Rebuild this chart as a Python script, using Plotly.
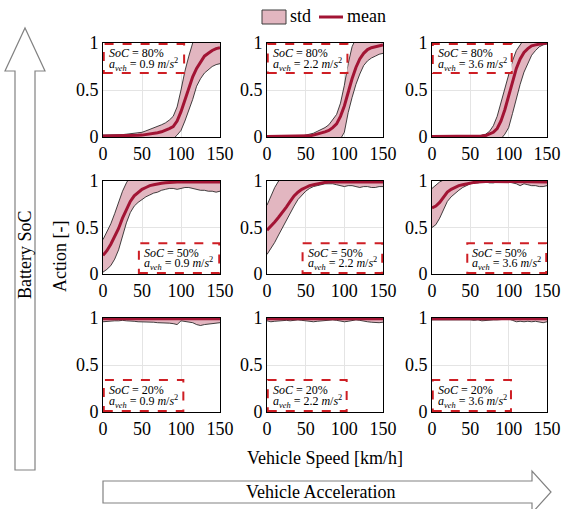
import plotly.graph_objects as go

W, H = 563, 509

speed = [0, 5, 10, 15, 20, 25, 30, 35, 40, 45, 50, 55, 60, 65, 70, 75,
         80, 85, 90, 95, 100, 105, 110, 115, 120, 125, 130, 135, 140, 145, 150]

soc_labels = ["80%", "50%", "20%"]
acc_labels = ["0.9", "2.2", "3.6"]

# ---- SoC = 80% ----
mean_80_09 = [0.01, 0.01, 0.01, 0.01, 0.01, 0.01, 0.01, 0.012, 0.015, 0.018, 0.02, 0.025, 0.03, 0.037, 0.045, 0.055,
              0.07, 0.09, 0.11, 0.17, 0.27, 0.40, 0.53, 0.64, 0.73, 0.80, 0.86, 0.89, 0.92, 0.94, 0.95]
up_80_09 = [0.02, 0.02, 0.02, 0.02, 0.02, 0.025, 0.03, 0.035, 0.04, 0.045, 0.05, 0.065, 0.08, 0.095, 0.11, 0.13,
            0.15, 0.18, 0.22, 0.32, 0.50, 0.70, 0.86, 1.0, 1.08, 1.10, 1.10, 1.10, 1.10, 1.10, 1.10]
lo_80_09 = [-0.02, -0.02, -0.02, -0.02, -0.02, -0.02, -0.02, -0.02, -0.02, -0.02, -0.02, -0.02, -0.02, -0.02, -0.02, -0.02,
            -0.02, -0.02, -0.02, 0.02, 0.07, 0.17, 0.28, 0.40, 0.54, 0.62, 0.68, 0.72, 0.75, 0.77, 0.78]

mean_80_22 = [0.005, 0.005, 0.005, 0.005, 0.005, 0.005, 0.005, 0.005, 0.005, 0.005, 0.008, 0.012, 0.02, 0.03, 0.04, 0.055,
              0.07, 0.10, 0.14, 0.22, 0.33, 0.48, 0.62, 0.74, 0.83, 0.89, 0.93, 0.95, 0.96, 0.97, 0.98]
up_80_22 = [0.01, 0.01, 0.01, 0.01, 0.01, 0.01, 0.01, 0.01, 0.01, 0.01, 0.02, 0.03, 0.04, 0.06, 0.08, 0.10,
            0.13, 0.18, 0.24, 0.36, 0.55, 0.78, 0.96, 1.05, 1.10, 1.10, 1.10, 1.10, 1.10, 1.10, 1.10]
lo_80_22 = [-0.02, -0.02, -0.02, -0.02, -0.02, -0.02, -0.02, -0.02, -0.02, -0.02, -0.02, -0.02, -0.02, -0.02, -0.02, -0.02,
            -0.02, -0.02, -0.02, -0.02, 0.05, 0.26, 0.42, 0.56, 0.67, 0.76, 0.81, 0.84, 0.86, 0.88, 0.89]

mean_80_36 = [0.005, 0.005, 0.005, 0.005, 0.005, 0.005, 0.005, 0.005, 0.005, 0.005, 0.005, 0.005, 0.005, 0.01, 0.015, 0.03,
              0.05, 0.09, 0.17, 0.29, 0.44, 0.60, 0.73, 0.83, 0.90, 0.94, 0.97, 0.98, 0.99, 0.995, 1.0]
up_80_36 = [0.01, 0.01, 0.01, 0.01, 0.01, 0.01, 0.01, 0.01, 0.01, 0.01, 0.01, 0.01, 0.01, 0.02, 0.03, 0.06,
            0.12, 0.22, 0.37, 0.53, 0.68, 0.81, 0.92, 0.99, 1.04, 1.05, 1.05, 1.05, 1.05, 1.05, 1.05]
lo_80_36 = [-0.02, -0.02, -0.02, -0.02, -0.02, -0.02, -0.02, -0.02, -0.02, -0.02, -0.02, -0.02, -0.02, -0.02, -0.02, -0.02,
            -0.02, -0.02, -0.02, 0.03, 0.10, 0.25, 0.41, 0.56, 0.69, 0.79, 0.87, 0.92, 0.96, 0.98, 0.99]

# ---- SoC = 50% ----
mean_50_09 = [0.20, 0.25, 0.32, 0.40, 0.49, 0.60, 0.70, 0.78, 0.84, 0.88, 0.91, 0.93, 0.95, 0.96, 0.97, 0.975,
              0.98, 0.985, 0.99, 0.99, 0.99, 0.99, 0.99, 0.99, 0.99, 0.99, 0.99, 0.99, 0.99, 0.99, 0.99]
up_50_09 = [0.37, 0.45, 0.54, 0.65, 0.77, 0.89, 0.98, 1.05, 1.08, 1.08, 1.08, 1.08, 1.08, 1.08, 1.08, 1.08,
            1.08, 1.08, 1.08, 1.08, 1.08, 1.08, 1.08, 1.08, 1.08, 1.08, 1.08, 1.08, 1.08, 1.08, 1.08]
lo_50_09 = [0.02, 0.05, 0.09, 0.16, 0.26, 0.40, 0.55, 0.66, 0.73, 0.77, 0.80, 0.83, 0.85, 0.87, 0.88, 0.90,
            0.91, 0.92, 0.92, 0.91, 0.92, 0.93, 0.93, 0.92, 0.91, 0.90, 0.90, 0.89, 0.89, 0.88, 0.89]

mean_50_22 = [0.47, 0.51, 0.56, 0.61, 0.66, 0.72, 0.78, 0.84, 0.88, 0.91, 0.93, 0.95, 0.96, 0.97, 0.98, 0.985,
              0.99, 0.99, 0.99, 0.99, 0.99, 0.99, 0.99, 0.99, 0.99, 0.99, 0.99, 0.99, 0.99, 0.99, 0.99]
up_50_22 = [0.74, 0.84, 0.93, 1.0, 1.04, 1.05, 1.05, 1.05, 1.05, 1.05, 1.05, 1.05, 1.05, 1.05, 1.05, 1.05,
            1.05, 1.05, 1.05, 1.05, 1.05, 1.05, 1.05, 1.05, 1.05, 1.05, 1.05, 1.05, 1.05, 1.05, 1.05]
lo_50_22 = [0.21, 0.27, 0.34, 0.42, 0.50, 0.57, 0.65, 0.73, 0.80, 0.85, 0.89, 0.92, 0.94, 0.95, 0.96, 0.97,
            0.97, 0.97, 0.96, 0.95, 0.94, 0.95, 0.95, 0.94, 0.93, 0.94, 0.94, 0.93, 0.93, 0.94, 0.94]

mean_50_36 = [0.71, 0.73, 0.77, 0.83, 0.88, 0.91, 0.93, 0.95, 0.96, 0.97, 0.98, 0.985, 0.99, 0.995, 0.995, 0.995,
              0.995, 0.995, 0.995, 0.995, 0.995, 0.995, 0.99, 0.99, 0.99, 0.99, 0.99, 0.99, 0.99, 0.99, 0.99]
up_50_36 = [0.92, 0.96, 0.99, 1.01, 1.02, 1.02, 1.02, 1.02, 1.02, 1.02, 1.02, 1.02, 1.02, 1.02, 1.02, 1.02,
            1.02, 1.02, 1.02, 1.02, 1.02, 1.02, 1.02, 1.02, 1.02, 1.02, 1.02, 1.02, 1.02, 1.02, 1.02]
lo_50_36 = [0.50, 0.53, 0.60, 0.70, 0.78, 0.83, 0.87, 0.90, 0.93, 0.95, 0.97, 0.98, 0.98, 0.99, 0.99, 0.98,
            0.98, 0.99, 0.99, 0.99, 0.99, 0.98, 0.97, 0.95, 0.97, 0.96, 0.95, 0.95, 0.94, 0.94, 0.95]

# ---- SoC = 20% ----
mean_20_09 = [0.993, 0.993, 0.993, 0.993, 0.993, 0.993, 0.993, 0.993, 0.993, 0.993, 0.993, 0.993, 0.993, 0.993, 0.993, 0.993,
              0.993, 0.993, 0.993, 0.993, 0.993, 0.993, 0.993, 0.993, 0.993, 0.993, 0.993, 0.993, 0.993, 0.993, 0.993]
up_20_09 = [1.01, 1.01, 1.01, 1.01, 1.01, 1.01, 1.01, 1.01, 1.01, 1.01, 1.01, 1.01, 1.01, 1.01, 1.01, 1.01,
            1.01, 1.01, 1.01, 1.01, 1.01, 1.01, 1.01, 1.01, 1.01, 1.01, 1.01, 1.01, 1.01, 1.01, 1.01]
lo_20_09 = [0.96, 0.965, 0.97, 0.97, 0.97, 0.975, 0.97, 0.97, 0.965, 0.96, 0.96, 0.96, 0.96, 0.955, 0.95, 0.95,
            0.95, 0.945, 0.94, 0.93, 0.97, 0.965, 0.96, 0.95, 0.93, 0.92, 0.93, 0.935, 0.94, 0.945, 0.95]

mean_20_22 = [0.993, 0.993, 0.993, 0.993, 0.993, 0.993, 0.993, 0.993, 0.993, 0.993, 0.993, 0.993, 0.993, 0.993, 0.993, 0.993,
              0.993, 0.993, 0.993, 0.993, 0.993, 0.993, 0.993, 0.993, 0.993, 0.993, 0.993, 0.993, 0.993, 0.993, 0.993]
up_20_22 = [1.01, 1.01, 1.01, 1.01, 1.01, 1.01, 1.01, 1.01, 1.01, 1.01, 1.01, 1.01, 1.01, 1.01, 1.01, 1.01,
            1.01, 1.01, 1.01, 1.01, 1.01, 1.01, 1.01, 1.01, 1.01, 1.01, 1.01, 1.01, 1.01, 1.01, 1.01]
lo_20_22 = [0.97, 0.96, 0.965, 0.97, 0.97, 0.975, 0.97, 0.975, 0.98, 0.975, 0.97, 0.965, 0.96, 0.965, 0.97, 0.975,
            0.98, 0.98, 0.975, 0.97, 0.96, 0.965, 0.97, 0.98, 0.975, 0.965, 0.96, 0.955, 0.95, 0.95, 0.955]

mean_20_36 = [0.993, 0.993, 0.993, 0.993, 0.993, 0.993, 0.993, 0.993, 0.993, 0.993, 0.993, 0.993, 0.993, 0.993, 0.993, 0.993,
              0.993, 0.993, 0.993, 0.993, 0.993, 0.993, 0.993, 0.993, 0.993, 0.993, 0.993, 0.993, 0.993, 0.993, 0.993]
up_20_36 = [1.01, 1.01, 1.01, 1.01, 1.01, 1.01, 1.01, 1.01, 1.01, 1.01, 1.01, 1.01, 1.01, 1.01, 1.01, 1.01,
            1.01, 1.01, 1.01, 1.01, 1.01, 1.01, 1.01, 1.01, 1.01, 1.01, 1.01, 1.01, 1.01, 1.01, 1.01]
lo_20_36 = [0.98, 0.98, 0.98, 0.98, 0.985, 0.98, 0.98, 0.985, 0.98, 0.98, 0.98, 0.975, 0.98, 0.97, 0.975, 0.98,
            0.98, 0.98, 0.985, 0.99, 0.99, 0.975, 0.96, 0.965, 0.96, 0.965, 0.96, 0.965, 0.96, 0.95, 0.96]

x_ticks = [0, 50, 100, 150]
y_ticks = [0, 0.5, 1]
y_ticktext = ["0", "0.5", "1"]

panels = [
    [(mean_80_09, up_80_09, lo_80_09), (mean_80_22, up_80_22, lo_80_22), (mean_80_36, up_80_36, lo_80_36)],
    [(mean_50_09, up_50_09, lo_50_09), (mean_50_22, up_50_22, lo_50_22), (mean_50_36, up_50_36, lo_50_36)],
    [(mean_20_09, up_20_09, lo_20_09), (mean_20_22, up_20_22, lo_20_22), (mean_20_36, up_20_36, lo_20_36)],
]

MEAN_COLOR = "rgb(162,20,52)"
FILL_COLOR = "rgb(226,182,192)"
BOX_COLOR = "rgb(206,30,36)"
FONT = "Liberation Serif, Times New Roman, serif"

col_px = [(103, 220), (267, 383), (432, 547)]
row_px = [(43, 137), (181, 274), (318, 412)]

# annotation box placement per row (data coords): x0, x1, y0, y1
box_pos = [(1, 104, 0.68, 0.99), (46, 149, 0.01, 0.33), (1, 103, 0.01, 0.34)]

fig = go.Figure()
layout = dict(
    template="none",
    width=W, height=H, margin=dict(l=0, r=0, t=0, b=0, pad=0, autoexpand=False),
    paper_bgcolor="white", plot_bgcolor="white", showlegend=False,
    font=dict(family=FONT, size=18, color="black"),
)
shapes = []
annotations = []

for r in range(3):
    for c in range(3):
        idx = r * 3 + c + 1
        xa = "x" if idx == 1 else f"x{idx}"
        ya = "y" if idx == 1 else f"y{idx}"
        mean, up, lo = panels[r][c]
        fig.add_trace(go.Scatter(x=speed, y=up, mode="lines", xaxis=xa, yaxis=ya,
                                 line=dict(color="rgb(20,20,20)", width=0.8), hoverinfo="skip"))
        fig.add_trace(go.Scatter(x=speed, y=lo, mode="lines", xaxis=xa, yaxis=ya, fill="tonexty",
                                 fillcolor=FILL_COLOR, line=dict(color="rgb(20,20,20)", width=0.8),
                                 hoverinfo="skip"))
        fig.add_trace(go.Scatter(x=speed, y=mean, mode="lines", xaxis=xa, yaxis=ya,
                                 line=dict(color=MEAN_COLOR, width=3)))
        xk = "xaxis" if idx == 1 else f"xaxis{idx}"
        yk = "yaxis" if idx == 1 else f"yaxis{idx}"
        x0p, x1p = col_px[c]
        y0p, y1p = row_px[r]
        layout[xk] = dict(domain=[x0p / W, x1p / W], range=[0, 150], anchor=ya, automargin=False,
                          tickvals=x_ticks, showgrid=True, gridcolor="rgb(228,228,228)", gridwidth=1,
                          showline=True, linecolor="black", linewidth=1, mirror=True,
                          zeroline=False, ticks="", tickfont=dict(size=18, family=FONT))
        layout[yk] = dict(domain=[1 - y1p / H, 1 - y0p / H], range=[0, 1], anchor=xa, automargin=False,
                          tickvals=y_ticks, ticktext=y_ticktext, showgrid=True,
                          gridcolor="rgb(228,228,228)", gridwidth=1,
                          showline=True, linecolor="black", linewidth=1, mirror=True,
                          zeroline=False, ticks="", tickfont=dict(size=18, family=FONT))
        bx0, bx1, by0, by1 = box_pos[r]
        shapes.append(dict(type="rect", xref=xa, yref=ya, x0=bx0, x1=bx1, y0=by0, y1=by1,
                           line=dict(color=BOX_COLOR, width=2, dash="dash"), fillcolor="white",
                           layer="above"))
        ym = (by0 + by1) / 2
        dy = (by1 - by0) * 0.19
        annotations.append(dict(xref=xa, yref=ya, x=bx0 + 4, y=ym + dy, xanchor="left", yanchor="middle",
                                text=f"<i>SoC</i> = {soc_labels[r]}", showarrow=False,
                                font=dict(size=12, family=FONT)))
        annotations.append(dict(xref=xa, yref=ya, x=bx0 + 4, y=ym - dy, xanchor="left", yanchor="middle",
                                text=f"<i>a</i><sub><i>veh</i></sub> = {acc_labels[c]} <i>m</i>/<i>s</i><sup>2</sup>",
                                showarrow=False, font=dict(size=12, family=FONT)))


def px(xp, yp):
    return xp / W, 1 - yp / H


def path(points):
    s = ""
    for i, (a, b) in enumerate(points):
        X, Y = px(a, b)
        s += ("M" if i == 0 else "L") + f"{X:.5f},{Y:.5f} "
    return s + "Z"


ARROW = "rgb(130,130,130)"
shapes.append(dict(type="path", xref="paper", yref="paper",
                   path=path([(15, 470), (15, 71), (5, 71), (25, 28), (45, 71), (35, 71), (35, 470)]),
                   line=dict(color=ARROW, width=1.2), fillcolor="white"))
shapes.append(dict(type="path", xref="paper", yref="paper",
                   path=path([(103, 481), (532, 481), (532, 471), (551, 492), (532, 513), (532, 503), (103, 503)]),
                   line=dict(color=ARROW, width=1.2), fillcolor="white"))

# legend
lx0, ly0 = px(262, 10)
lx1, ly1 = px(286, 24)
shapes.append(dict(type="rect", xref="paper", yref="paper", x0=lx0, x1=lx1, y0=ly1, y1=ly0,
                   line=dict(color="rgb(60,60,60)", width=1), fillcolor=FILL_COLOR))
m0, my = px(319, 17)
m1, _ = px(343, 17)
shapes.append(dict(type="line", xref="paper", yref="paper", x0=m0, x1=m1, y0=my, y1=my,
                   line=dict(color=MEAN_COLOR, width=3)))


def ann(xp, yp, text, size=18, angle=0, xanchor="center"):
    X, Y = px(xp, yp)
    annotations.append(dict(xref="paper", yref="paper", x=X, y=Y, text=text, showarrow=False,
                            xanchor=xanchor, yanchor="middle", textangle=angle,
                            font=dict(size=size, family=FONT)))


ann(288, 16, "std", xanchor="left")
ann(345, 16, "mean", xanchor="left")
ann(325, 458, "Vehicle Speed [km/h]")
ann(60, 256, "Action [-]", angle=-90)
ann(25, 255, "Battery SoC", angle=-90)
ann(320, 492, "Vehicle Acceleration")

layout["shapes"] = shapes
layout["annotations"] = annotations
fig.update_layout(**layout)
fig.write_html("out.html")
